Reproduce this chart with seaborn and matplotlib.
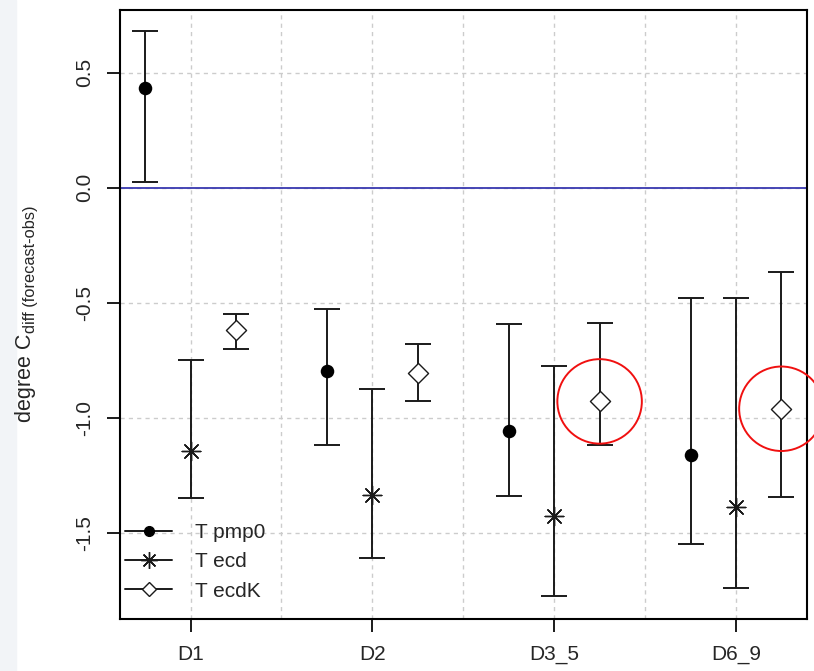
import matplotlib
matplotlib.use('Agg')
from matplotlib import pyplot as plt
from matplotlib.lines import Line2D
from matplotlib import patches
import pandas as pd
import seaborn as sns

sns.set_style('white')
plt.rcParams['font.family'] = ['Liberation Sans', 'DejaVu Sans']
plt.rcParams['axes.unicode_minus'] = False

# data
periods = ['D1', 'D2', 'D3_5', 'D6_9']
series = ['T pmp0', 'T ecd', 'T ecdK']

pmp0_mean = [0.435, -0.796, -1.057, -1.164]
pmp0_low = [0.025, -1.120, -1.342, -1.550]
pmp0_high = [0.680, -0.526, -0.593, -0.478]

ecd_mean = [-1.143, -1.335, -1.425, -1.390]
ecd_low = [-1.351, -1.610, -1.776, -1.740]
ecd_high = [-0.748, -0.875, -0.777, -0.478]

ecdK_mean = [-0.617, -0.807, -0.929, -0.961]
ecdK_low = [-0.701, -0.929, -1.120, -1.343]
ecdK_high = [-0.550, -0.678, -0.588, -0.365]

highlighted = ['D3_5', 'D6_9']   # ecdK points circled in red

rows = []
for name, m, lo, hi in [(series[0], pmp0_mean, pmp0_low, pmp0_high),
                        (series[1], ecd_mean, ecd_low, ecd_high),
                        (series[2], ecdK_mean, ecdK_low, ecdK_high)]:
    for p, a, b, c in zip(periods, m, lo, hi):
        rows.append({'period': p, 'series': name, 'mean': a, 'low': b, 'high': c})
df = pd.DataFrame(rows)

offsets = {series[0]: -0.25, series[1]: 0.0, series[2]: 0.25}
df['x'] = df['period'].map({p: i + 1 for i, p in enumerate(periods)}) + df['series'].map(offsets)

fig = plt.figure(figsize=(8.14, 6.71), dpi=100)
fig.patches.append(patches.Rectangle((0, 0), 16 / 814, 1, transform=fig.transFigure,
                                     color='#f2f4f7', zorder=0))
ax = fig.add_axes([120 / 814, 1 - 619.3 / 671, 686.5 / 814, 609.3 / 671])

ax.axhline(0, color='#3838b0', lw=1.3, zorder=1)

for name in series:
    d = df[df['series'] == name]
    ax.errorbar(d['x'], d['mean'], yerr=[d['mean'] - d['low'], d['high'] - d['mean']],
                fmt='none', ecolor='#1a1a1a', elinewidth=1.4, capsize=9.5, capthick=1.4, zorder=2)

for name in series:
    d = df[df['series'] == name]
    if name == series[2]:
        sns.scatterplot(x='x', y='mean', data=d, marker='D', s=105, facecolor='white',
                        edgecolor='#1a1a1a', linewidth=1.0, ax=ax, zorder=3, legend=False)
    elif name == series[1]:
        sns.scatterplot(x='x', y='mean', data=d, marker=(8, 2, 0), s=180, color='#1a1a1a',
                        edgecolor='#1a1a1a', linewidth=1.0, ax=ax, zorder=3, legend=False)
    else:
        sns.scatterplot(x='x', y='mean', data=d, marker='o', s=95, color='black',
                        edgecolor='black', linewidth=0, ax=ax, zorder=3, legend=False)

hl = df[(df['series'] == series[2]) & (df['period'].isin(highlighted))]
ax.scatter(hl['x'], hl['mean'], s=3700, facecolors='none', edgecolors='#f01010',
           linewidths=1.4, zorder=4, clip_on=False)

ax.set_xlim(0.612, 4.388)
ax.set_ylim(-1.876, 0.772)
ax.set_xticks(range(1, len(periods) + 1))
ax.set_xticklabels(periods)
ax.set_yticks([-1.5, -1.0, -0.5, 0.0, 0.5])
ax.set_yticklabels(['-1.5', '-1.0', '-0.5', '0.0', '0.5'], rotation=90, va='center')
ax.set_xticks([1.5, 2.5, 3.5], minor=True)
ax.grid(True, which='both', color='#cccccc', lw=1.0, ls=(0, (3, 3)))
ax.set_axisbelow(True)
ax.tick_params(axis='both', which='major', direction='out', length=9.5, width=1.4,
               labelsize=15, pad=9, color='#1a1a1a')
ax.tick_params(axis='x', which='minor', length=0)
ax.tick_params(axis='both', left=True, bottom=True)
for s in ax.spines.values():
    s.set_linewidth(1.5)
    s.set_color('black')
ax.set_xlabel('')
ax.set_ylabel('')

# y label: "degree C" with a subscript, drawn as two rotated pieces
t1 = fig.text(31 / 814, 1 - 422 / 671, 'degree C', rotation=90, rotation_mode='anchor',
              ha='left', va='baseline', fontsize=15.5)
fig.canvas.draw()
bb = t1.get_window_extent()
fig.text(35 / 814, (bb.y1 + 1) / 671, 'diff (forecast-obs)', rotation=90, rotation_mode='anchor',
         ha='left', va='baseline', fontsize=11.8)

handles = [Line2D([0], [0], color='#1a1a1a', lw=1.4, marker='o', ms=7, mfc='black', mec='black'),
           Line2D([0], [0], color='#1a1a1a', lw=1.4, marker=(8, 2, 0), ms=12, mec='#1a1a1a', mew=1.0),
           Line2D([0], [0], color='#1a1a1a', lw=1.4, marker='D', ms=7.5, mfc='white', mec='#1a1a1a', mew=1.0)]
ax.legend(handles, series, loc='lower left', frameon=False, fontsize=15, handlelength=2.25,
          handletextpad=1.1, labelspacing=0.49, borderpad=0.25, borderaxespad=0,
          bbox_to_anchor=(0.0, 0.022))

plt.savefig('out.png', dpi=100)
